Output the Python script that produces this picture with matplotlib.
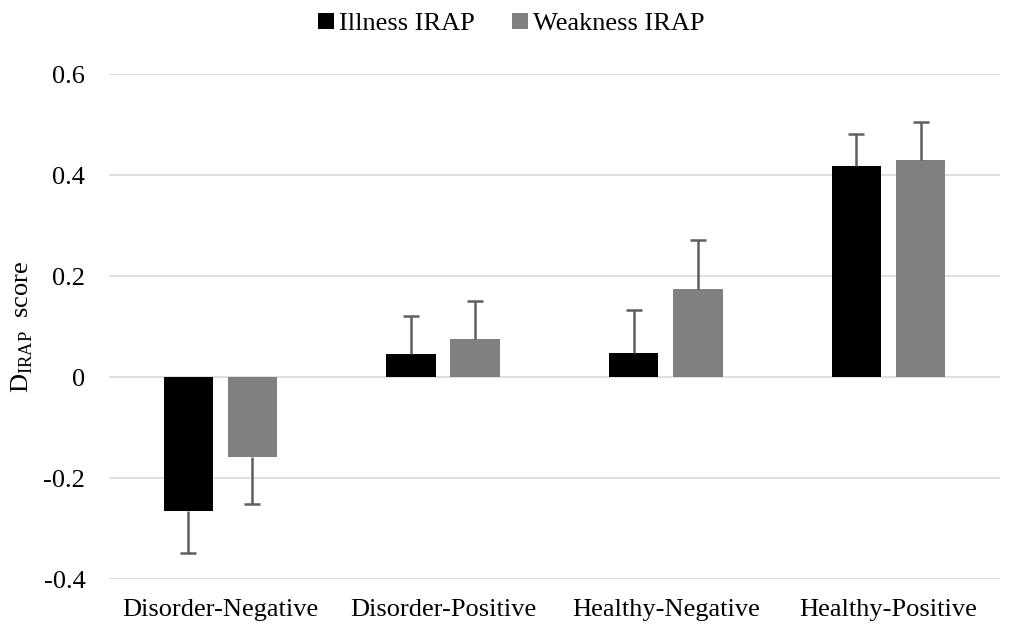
import numpy as np
import matplotlib
matplotlib.use('Agg')
import matplotlib.pyplot as plt

plt.rcParams['font.family'] = 'Liberation Serif'
plt.rcParams['mathtext.fontset'] = 'custom'
plt.rcParams['mathtext.rm'] = 'Liberation Serif'
plt.rcParams['axes.unicode_minus'] = False

categories = ["Disorder-Negative", "Disorder-Positive", "Healthy-Negative", "Healthy-Positive"]
illness = [-0.266, 0.046, 0.047, 0.418]
illness_err = [0.083, 0.075, 0.086, 0.063]
weakness = [-0.159, 0.076, 0.175, 0.430]
weakness_err = [0.092, 0.074, 0.097, 0.076]
yticks = [-0.4, -0.2, 0, 0.2, 0.4, 0.6]

fig = plt.figure(figsize=(10.09, 6.24), dpi=100)
ax = fig.add_axes([0.108, 0.072, 0.883, 0.809])

x = np.arange(len(categories))
w = 0.222
off = 0.144

ax.bar(x - off, illness, w, color='black', label='Illness IRAP', zorder=3)
ax.bar(x + off, weakness, w, color='#808080', label='Weakness IRAP', zorder=3)

# one-sided error bars, pointing away from zero
ecol = '#5f5f5f'
for xs, vals, errs in [(x - off, illness, illness_err), (x + off, weakness, weakness_err)]:
    ends = [v - e if v < 0 else v + e for v, e in zip(vals, errs)]
    ax.vlines(xs, vals, ends, color=ecol, linewidth=1.8, zorder=4)
    ax.plot(xs, ends, linestyle='none', marker='_', markersize=12,
            markeredgewidth=1.8, color=ecol, zorder=4)

ax.set_xlim(-0.5, len(categories) - 0.5)
ax.set_ylim(-0.4, 0.6)
ax.set_yticks(yticks)
ax.set_yticklabels(["{:g}".format(t) for t in yticks])
ax.set_xticks(x)
ax.set_xticklabels(categories)
ax.tick_params(axis='both', length=0, labelsize=19)
ax.tick_params(axis='y', pad=17)
ax.tick_params(axis='x', pad=14)
ax.yaxis.grid(True, color='#d9d9d9', linewidth=1.2, zorder=0)
ax.set_axisbelow(True)
for s in ax.spines.values():
    s.set_visible(False)

ax.set_ylabel(r"D$_{\mathrm{IRAP}}$  score", fontsize=19, labelpad=6)

fig.legend(loc='upper center', bbox_to_anchor=(0.507, 1.018), ncol=2, frameon=False,
           fontsize=19, handlelength=0.6, handleheight=0.6, handletextpad=0.2,
           columnspacing=1.4)

plt.savefig("out.png", dpi=100)
plt.close()
